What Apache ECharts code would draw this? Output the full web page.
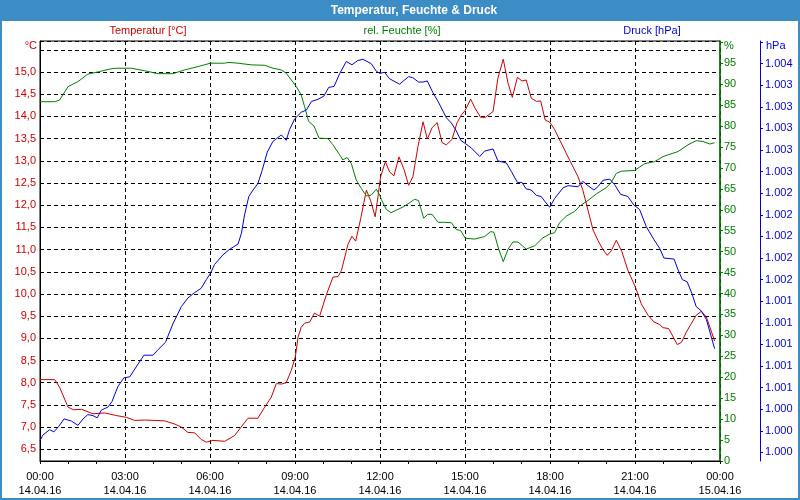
<!DOCTYPE html>
<html>
<head>
<meta charset="utf-8">
<script src="https://cdn.jsdelivr.net/npm/echarts@6/dist/echarts.min.js"></script>
<style>html,body{margin:0;padding:0;background:#fff;}#c{width:800px;height:500px;}</style>
</head>
<body>
<div id="c"></div>
<script>
// ---- data (time in hours since 14.04.16 00:00) ----
const xTickLabels = ['00:00\n14.04.16','03:00\n14.04.16','06:00\n14.04.16','09:00\n14.04.16','12:00\n14.04.16','15:00\n14.04.16','18:00\n14.04.16','21:00\n14.04.16','00:00\n15.04.16'];

const tempTime = [0,0.52,0.69,0.99,1.18,1.47,1.87,2.28,2.69,3.05,3.34,3.69,4.40,4.75,4.99,5.22,5.46,5.69,5.87,6.10,6.52,6.87,7.05,7.34,7.69,7.93,8.16,8.34,8.52,8.69,8.87,9.01,9.11,9.22,9.34,9.52,9.69,9.87,10.10,10.34,10.52,10.64,10.87,11.01,11.14,11.32,11.52,11.67,11.83,11.93,12.02,12.19,12.34,12.49,12.67,12.85,13.01,13.16,13.34,13.52,13.67,13.84,14.02,14.19,14.34,14.54,14.72,14.87,15.01,15.20,15.36,15.55,15.72,15.99,16.16,16.35,16.52,16.67,16.85,17.01,17.16,17.34,17.52,17.67,17.83,17.99,18.16,18.34,18.69,18.99,19.16,19.34,19.52,19.69,19.87,20.02,20.16,20.34,20.54,20.75,21.01,21.22,21.46,21.67,21.87,21.99,22.19,22.49,22.64,22.81,23.16,23.34,23.52,23.81];
const tempVal = [8.07,8.07,7.90,7.45,7.39,7.40,7.30,7.32,7.26,7.22,7.15,7.16,7.14,7.07,7.00,6.88,6.87,6.72,6.66,6.70,6.68,6.81,6.96,7.20,7.20,7.45,7.67,7.98,7.97,8.00,8.28,8.58,9.03,9.25,9.34,9.37,9.57,9.50,9.97,10.38,10.39,10.53,11.12,11.30,11.19,11.70,12.34,12.10,11.74,12.20,12.64,12.98,12.75,12.66,13.09,12.80,12.45,12.64,13.32,13.88,13.49,13.75,13.86,13.41,13.36,13.48,13.86,14.03,14.14,14.39,14.18,13.98,13.98,14.11,14.86,15.29,14.75,14.43,14.88,14.80,14.82,14.41,14.34,14.35,13.92,13.87,13.71,13.47,13.02,12.64,12.34,11.89,11.44,11.21,11.00,10.87,10.97,11.21,10.95,10.53,10.16,9.78,9.52,9.37,9.31,9.24,9.22,8.86,8.91,9.14,9.52,9.61,9.48,8.94];

const humTime = [0,0.52,0.69,0.99,1.34,1.69,2.10,2.46,2.69,3.22,3.69,4.16,4.69,5.11,5.58,6.02,6.52,6.64,6.99,7.46,7.93,8.22,8.52,8.69,8.87,9.05,9.22,9.34,9.48,9.67,9.85,10.16,10.34,10.58,10.69,10.84,10.99,11.16,11.34,11.52,11.69,11.87,11.99,12.05,12.22,12.39,12.64,12.85,13.05,13.22,13.36,13.54,13.69,13.84,14.05,14.28,14.52,14.69,14.85,15.01,15.34,15.69,15.91,16.02,16.19,16.35,16.52,16.69,16.87,17.16,17.46,17.75,17.99,18.16,18.34,18.58,18.87,19.05,19.34,19.64,19.99,20.16,20.34,20.52,20.99,21.34,21.69,21.99,22.16,22.52,22.87,23.16,23.40,23.64,23.81];
const humVal = [85.8,85.8,86.2,89.4,90.6,92.4,93.0,93.6,93.8,93.8,93.2,92.5,92.5,93.4,94.2,95.0,95.0,95.2,95.0,94.6,94.5,93.8,93.4,92.6,91.0,89.4,87.4,84.6,81.1,80.0,77.1,77.0,75.5,73.1,71.9,72.5,71.0,67.1,65.1,63.3,63.5,64.9,63.5,62.4,60.1,59.3,60.1,60.8,61.7,62.5,62.2,58.0,58.9,58.9,57.0,57.0,56.9,55.3,55.0,53.2,53.0,53.6,54.8,54.6,50.6,47.6,50.6,52.3,52.3,50.6,51.4,53.3,54.2,54.5,56.9,58.5,59.6,60.9,62.2,63.8,65.3,66.5,68.7,69.2,69.4,71.0,71.5,72.7,73.1,73.9,75.5,76.5,76.3,75.7,76.0];

const presTime = [0,0.10,0.34,0.49,0.66,0.85,1.11,1.34,1.52,1.69,1.87,2.02,2.16,2.40,2.54,2.75,2.96,3.17,3.44,3.67,3.99,4.16,4.43,4.69,4.99,5.22,5.46,5.69,5.87,6.02,6.16,6.46,6.69,6.99,7.11,7.22,7.37,7.52,7.69,7.84,8.02,8.22,8.52,8.69,8.81,8.99,9.22,9.40,9.58,9.81,10.02,10.19,10.38,10.58,10.81,11.01,11.22,11.40,11.69,11.87,11.99,12.16,12.34,12.69,13.01,13.16,13.36,13.52,13.67,13.87,14.05,14.34,14.52,14.69,14.85,15.01,15.22,15.52,15.69,15.99,16.16,16.46,16.64,16.85,17.01,17.16,17.34,17.52,17.69,17.83,17.99,18.16,18.46,18.64,18.99,19.16,19.34,19.55,19.69,19.87,20.11,20.28,20.49,20.75,20.96,21.16,21.40,21.67,21.87,22.02,22.38,22.52,22.67,22.84,23.01,23.16,23.34,23.52,23.81];
const presVal = [1000.11,1000.16,1000.21,1000.19,1000.24,1000.31,1000.29,1000.25,1000.31,1000.35,1000.34,1000.32,1000.39,1000.42,1000.47,1000.61,1000.69,1000.70,1000.81,1000.90,1000.90,1000.95,1001.02,1001.19,1001.35,1001.43,1001.48,1001.52,1001.60,1001.66,1001.74,1001.83,1001.88,1001.93,1002.03,1002.20,1002.37,1002.43,1002.49,1002.61,1002.78,1002.88,1002.94,1002.89,1002.99,1003.09,1003.15,1003.17,1003.25,1003.27,1003.30,1003.38,1003.39,1003.51,1003.62,1003.59,1003.63,1003.64,1003.60,1003.53,1003.51,1003.52,1003.46,1003.41,1003.48,1003.47,1003.43,1003.43,1003.44,1003.33,1003.25,1003.10,1003.05,1002.98,1002.89,1002.86,1002.82,1002.74,1002.79,1002.81,1002.70,1002.68,1002.60,1002.50,1002.50,1002.44,1002.43,1002.38,1002.37,1002.32,1002.27,1002.35,1002.45,1002.47,1002.46,1002.51,1002.47,1002.43,1002.46,1002.52,1002.53,1002.48,1002.39,1002.37,1002.29,1002.25,1002.09,1001.97,1001.89,1001.80,1001.79,1001.69,1001.60,1001.58,1001.47,1001.35,1001.31,1001.23,1000.96];

// ---- styling ----
const RED = '#d00000', GREEN = '#008000', BLUE = '#0000dd', FRAME = '#3c8cc5';
const FONT = '"Liberation Sans", Arial, sans-serif';
const zip = (t, v) => t.map((x, i) => [x, v[i]]);
const near = (a, b) => Math.abs(a - b) < 1e-6;

const chart = echarts.init(document.getElementById('c'), null, {renderer: 'canvas'});
chart.setOption({
  animation: false,
  backgroundColor: '#fff',
  textStyle: {fontFamily: FONT},
  grid: {left: 40, right: 80, top: 41, bottom: 39, show: true, borderColor: '#000', borderWidth: 1, backgroundColor: 'transparent'},
  graphic: [
    {type: 'rect', shape: {x: 0, y: 0, width: 800, height: 21}, style: {fill: FRAME}, silent: true},
    {type: 'rect', shape: {x: 1, y: 1, width: 798, height: 498}, style: {fill: 'none', stroke: FRAME, lineWidth: 2}, silent: true},
    {type: 'text', x: 414, y: 11, style: {text: 'Temperatur, Feuchte & Druck', fill: '#fff', font: 'bold 12px ' + FONT, align: 'center', verticalAlign: 'middle'}},
    {type: 'text', x: 148, y: 31, style: {text: 'Temperatur [°C]', fill: RED, font: '11px ' + FONT, align: 'center', verticalAlign: 'middle'}},
    {type: 'text', x: 402, y: 31, style: {text: 'rel. Feuchte [%]', fill: GREEN, font: '11px ' + FONT, align: 'center', verticalAlign: 'middle'}},
    {type: 'text', x: 652, y: 31, style: {text: 'Druck [hPa]', fill: BLUE, font: '11px ' + FONT, align: 'center', verticalAlign: 'middle'}},
    {type: 'text', x: 37, y: 46, style: {text: '°C', fill: RED, font: '11px ' + FONT, align: 'right', verticalAlign: 'middle'}},
    {type: 'text', x: 724, y: 46, style: {text: '%', fill: GREEN, font: '11px ' + FONT, align: 'left', verticalAlign: 'middle'}},
    {type: 'text', x: 766, y: 46, style: {text: 'hPa', fill: BLUE, font: '11px ' + FONT, align: 'left', verticalAlign: 'middle'}}
  ],
  xAxis: {
    type: 'value', min: 0, max: 24, interval: 3,
    axisLine: {show: true, onZero: false, lineStyle: {color: '#000', width: 1}},
    axisTick: {show: true, length: 3, lineStyle: {color: '#000'}},
    minorTick: {show: true, splitNumber: 3, length: 3, lineStyle: {color: '#000'}},
    splitLine: {show: true, lineStyle: {color: '#000', type: [4, 3], width: 1}},
    axisLabel: {color: '#000', fontSize: 11, fontFamily: FONT, lineHeight: 14, margin: 9,
      formatter: v => xTickLabels[Math.round(v / 3)]}
  },
  yAxis: [
    {
      type: 'value', position: 'left', min: 6.236, max: 15.70, minInterval: 0.5, maxInterval: 0.5,
      axisLine: {show: true, lineStyle: {color: '#000', width: 1}},
      axisTick: {show: false},
      splitLine: {show: true, lineStyle: {color: '#000', type: [4, 3], width: 1}},
      axisLabel: {color: RED, fontSize: 11, fontFamily: FONT, margin: 4, showMinLabel: false, showMaxLabel: false,
        formatter: v => {
          const r = Math.round(v * 2) / 2;
          if (!near(r, v) || r >= 15.5) return '';
          return r.toFixed(1).replace('.', ',');
        }}
    },
    {
      type: 'value', position: 'right', min: 0, max: 100.3, minInterval: 5, maxInterval: 5,
      axisLine: {show: true, lineStyle: {color: GREEN, width: 1.5}},
      axisTick: {show: true, length: 3, lineStyle: {color: GREEN}},
      splitLine: {show: false},
      axisLabel: {color: GREEN, fontSize: 11, fontFamily: FONT, margin: 4, showMaxLabel: false,
        formatter: v => {
          const r = Math.round(v);
          if (!near(r, v) || r >= 100) return '';
          return String(r);
        }}
    },
    {
      type: 'value', position: 'right', offset: 40, min: 999.92, max: 1003.81, minInterval: 0.2, maxInterval: 0.2,
      axisLine: {show: true, lineStyle: {color: BLUE, width: 1}},
      axisTick: {show: true, length: 3, lineStyle: {color: BLUE}},
      splitLine: {show: false},
      axisLabel: {color: BLUE, fontSize: 11, fontFamily: FONT, margin: 5, showMinLabel: false, showMaxLabel: false,
        formatter: v => {
          const r = Math.round(v * 5) / 5;
          if (!near(r, v) || r > 1003.7) return '';
          return (Math.round(r) / 1000).toFixed(3);
        }}
    }
  ],
  series: [
    {name: 'Temperatur [°C]', type: 'line', yAxisIndex: 0, data: zip(tempTime, tempVal), showSymbol: false, lineStyle: {color: RED, width: 1}, itemStyle: {color: RED}},
    {name: 'rel. Feuchte [%]', type: 'line', yAxisIndex: 1, data: zip(humTime, humVal), showSymbol: false, lineStyle: {color: GREEN, width: 1}, itemStyle: {color: GREEN}},
    {name: 'Druck [hPa]', type: 'line', yAxisIndex: 2, data: zip(presTime, presVal), showSymbol: false, lineStyle: {color: BLUE, width: 1}, itemStyle: {color: BLUE}}
  ]
});
</script>
</body>
</html>
